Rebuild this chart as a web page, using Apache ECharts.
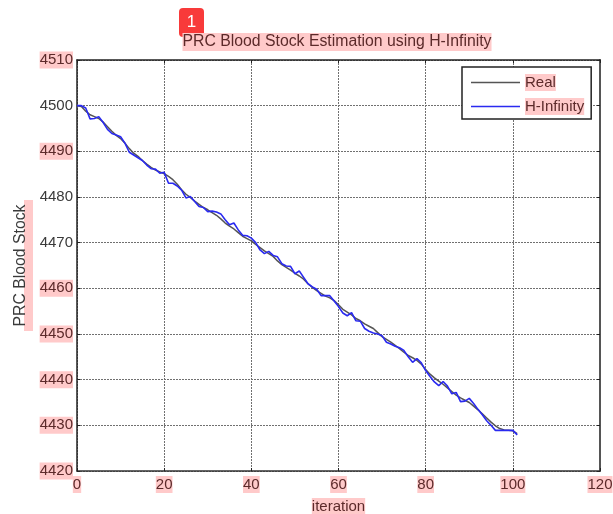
<!DOCTYPE html>
<html><head><meta charset="utf-8">
<style>html,body{margin:0;padding:0;background:#fff}#c{width:613px;height:514px}</style>
<script src="https://cdn.jsdelivr.net/npm/echarts@6/dist/echarts.min.js"></script>
</head><body><div id="c"></div>
<script>
const titleText = 'PRC Blood Stock Estimation using H-Infinity';
const xName = 'iteration';
const yName = 'PRC Blood Stock';
const iterations = [0,1,2,3,4,5,6,7,8,9,10,11,12,13,14,15,16,17,18,19,20,21,22,23,24,25,26,27,28,29,30,31,32,33,34,35,36,37,38,39,40,41,42,43,44,45,46,47,48,49,50,51,52,53,54,55,56,57,58,59,60,61,62,63,64,65,66,67,68,69,70,71,72,73,74,75,76,77,78,79,80,81,82,83,84,85,86,87,88,89,90,91,92,93,94,95,96,97,98,99,100,101];
const realValues = [4500,4499.8,4498.8,4498,4497.6,4497.2,4496.4,4495.4,4494.4,4493.5,4492.8,4491.8,4490.6,4489.6,4488.9,4488,4487.2,4486.5,4485.9,4485.5,4485.1,4484.5,4483.8,4482.8,4481.6,4480.6,4479.9,4479.1,4478.4,4477.7,4477.2,4476.6,4476,4475.2,4474.3,4473.6,4473,4472.2,4471.4,4470.9,4470.4,4469.6,4468.9,4468.2,4467.6,4467,4466,4465.2,4464.6,4464,4463.3,4462.7,4462,4461,4460.2,4459.5,4458.9,4458.3,4457.9,4457.3,4456.4,4455.4,4454.8,4454.2,4453.4,4452.9,4452.2,4451.7,4451.2,4450.3,4449.4,4448.8,4448.2,4447.5,4446.8,4446,4445.3,4444.8,4444.2,4443.4,4442.2,4441.2,4440.4,4439.7,4439,4438.2,4437.4,4436.6,4436,4435.5,4435,4434.2,4433.4,4432.5,4431.6,4430.7,4429.9,4429.3,4429,4428.9,4428.8,4428.2];
const hinfValues = [4500,4500,4499.5,4497.1,4497.2,4497.6,4496.3,4494.8,4493.9,4493.6,4493.2,4491.8,4489.8,4489.2,4488.6,4488,4487,4486.2,4486.1,4485.2,4485.4,4483,4483,4482.4,4481.5,4479.8,4480.1,4479,4477.9,4477.7,4476.8,4476.9,4476.7,4476.3,4475,4473.9,4474.3,4472.8,4471.6,4471.5,4471,4470,4468.4,4467.6,4468.1,4467.2,4466.9,4465.4,4464.9,4464.8,4463.2,4463.8,4462.4,4461,4460.3,4459.8,4458.4,4458.4,4458.4,4457.2,4456,4454.6,4454,4454.7,4452.9,4452.8,4451.2,4450.6,4450.2,4450,4449.6,4448.2,4447.8,4447.3,4447,4446.4,4445,4443.8,4444.6,4443.7,4442,4440.7,4439.5,4438.7,4439.6,4438.6,4436.9,4437.2,4435.2,4435.3,4435.9,4434.8,4433.5,4432.3,4431,4430,4428.9,4428.9,4428.9,4428.9,4428.9,4427.9];
const highlightedYTicks = [4510,4490,4460,4450,4440,4430,4420];
const badgeLabel = '1';

const FONT = '"Liberation Sans", Arial, sans-serif';
const HL = '#ffcaca', INK = '#3a3a3a', HINK = '#5c2a2a';
const hStyle = size => ({backgroundColor: HL, color: HINK, fontSize: size, fontWeight: 'normal', fontFamily: FONT, padding: [1,0,1,0]});
const richLabels = {
  h: hStyle(15),
  n: {color: INK, fontSize: 15, fontFamily: FONT, padding: [1,0,1,0]}
};
const grid = {left: 77, right: 13, top: 60, bottom: 43, show: false, outerBoundsMode: 'none', containLabel: false};
const gridLine = {show: true, lineStyle: {color: '#707070', width: 1, type: [2,1]}};
const tickIn = {show: true, inside: true, length: 3, lineStyle: {color: '#222', width: 1}};

const chart = echarts.init(document.getElementById('c'), null, {renderer: 'canvas'});
chart.setOption({
  animation: false,
  backgroundColor: '#fff',
  title: {
    text: '{h|' + titleText + '}', left: 332, top: 28, textAlign: 'center',
    textStyle: {fontWeight: 'normal', rich: {h: hStyle(15.8)}}
  },
  grid,
  legend: {
    left: 462, top: 67, orient: 'vertical', padding: [7,7,4,9], itemGap: 7,
    icon: 'rect', itemWidth: 49, itemHeight: 1.5, borderColor: '#222', borderWidth: 1.5, backgroundColor: '#fff',
    data: ['Real', 'H-Infinity'],
    formatter: n => '{h|' + n + '}',
    textStyle: {rich: {h: hStyle(15)}}
  },
  xAxis: [
    {type: 'value', min: 0, max: 120, interval: 20, position: 'bottom',
     name: '{h|' + xName + '}', nameLocation: 'middle', nameGap: 27,
     nameTextStyle: {rich: {h: hStyle(15)}},
     axisLine: {show: true, onZero: false, lineStyle: {color: '#333', width: 1.5}},
     axisTick: tickIn, splitLine: gridLine,
     axisLabel: {margin: 5, formatter: v => '{h|' + v + '}', rich: richLabels}},
    {type: 'value', min: 0, max: 120, interval: 20, position: 'top',
     axisLine: {show: true, onZero: false, lineStyle: {color: '#222', width: 1.5}},
     axisTick: tickIn, splitLine: {show: false}, axisLabel: {show: false}}
  ],
  yAxis: [
    {type: 'value', min: 4420, max: 4510, interval: 10, position: 'left',
     name: yName, nameLocation: 'middle', nameGap: 48, nameRotate: 90,
     nameTextStyle: {color: INK, fontSize: 15.8, fontFamily: FONT},
     axisLine: {show: true, onZero: false, lineStyle: {color: '#222', width: 1.5}},
     axisTick: tickIn, splitLine: gridLine,
     axisLabel: {margin: 4, formatter: v => (highlightedYTicks.includes(v) ? '{h|' : '{n|') + v + '}', rich: richLabels}},
    {type: 'value', min: 4420, max: 4510, interval: 10, position: 'right',
     axisLine: {show: true, onZero: false, lineStyle: {color: '#555', width: 2}},
     axisTick: tickIn, splitLine: {show: false}, axisLabel: {show: false}}
  ],
  series: [
    {name: 'Real', type: 'line', showSymbol: false, symbol: 'none', z: 3,
     data: iterations.map((x,i) => [x, realValues[i]]),
     lineStyle: {color: '#555', width: 1.5}, itemStyle: {color: '#555'}},
    {name: 'H-Infinity', type: 'line', showSymbol: false, symbol: 'none', z: 4,
     data: iterations.map((x,i) => [x, hinfValues[i]]),
     lineStyle: {color: '#2a2af0', width: 1.6}, itemStyle: {color: '#2a2af0'}}
  ],
  graphic: [
    {type: 'rect', z: -1, shape: {x: 24, y: 200, width: 9, height: 131}, style: {fill: HL}},
    {type: 'group', z: 100, children: [
      {type: 'rect', shape: {x: 179, y: 8, width: 25, height: 29, r: 4}, style: {fill: '#f83a3a'}},
      {type: 'text', x: 191.5, y: 22.5, style: {text: badgeLabel, fill: '#fff', fontSize: 17, fontFamily: FONT, align: 'center', verticalAlign: 'middle'}}
    ]}
  ]
});
</script></body></html>
